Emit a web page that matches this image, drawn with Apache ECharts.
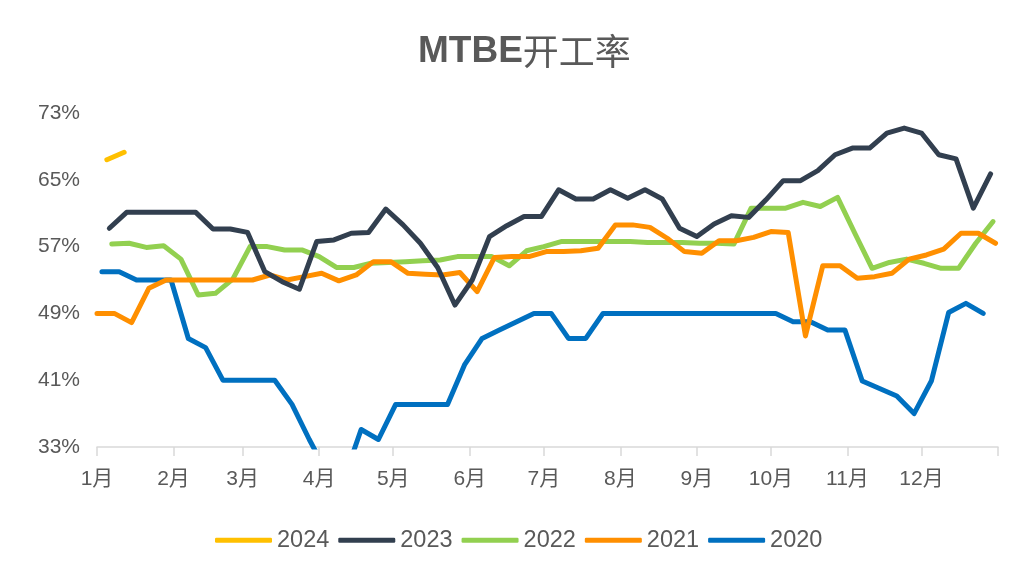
<!DOCTYPE html>
<html>
<head>
<meta charset="utf-8">
<script src="https://cdn.jsdelivr.net/npm/echarts@6/dist/echarts.min.js"></script>
<style>
    html, body { margin: 0; padding: 0; background: #fff; }
    #chart { width: 1014px; height: 571px; }
</style>
</head>
<body>
<div id="chart"></div>
<script>
    // month start (day of year) and labels
    var monthStarts = [0, 31, 59, 90, 120, 151, 181, 212, 243, 273, 304, 334];
    var monthLabels = ['1月', '2月', '3月', '4月', '5月', '6月', '7月', '8月', '9月', '10月', '11月', '12月'];

    var years = ['2024', '2023', '2022', '2021', '2020'];
    var colors = ['#FFC000', '#323F4F', '#92D050', '#FF8F00', '#0070C0'];
    // first weekly (Friday) point of each year, day of year
    var firstDays = [4, 5, 6, 0, 2];

    // weekly rates, %
    var rate2024 = [67.4, 68.3];
    var rate2023 = [59.2, 61.1, 61.1, 61.1, 61.1, 61.1, 59.1, 59.1, 58.7, 54.0,
        52.8, 51.9, 57.6, 57.8, 58.6, 58.7, 61.5, 59.6, 57.4, 54.5,
        50.0, 53.0, 58.2, 59.5, 60.6, 60.6, 63.8, 62.7, 62.7, 63.8,
        62.8, 63.8, 62.7, 59.2, 58.2, 59.7, 60.7, 60.5, 62.6, 64.9,
        64.9, 66.1, 68.0, 68.8, 68.8, 70.6, 71.2, 70.6, 68.0, 67.5,
        61.6, 65.7];
    var rate2022 = [57.3, 57.4, 56.9, 57.1, 55.5, 51.2, 51.4, 53.1, 57.0, 57.0,
        56.6, 56.6, 55.8, 54.5, 54.5, 55.0, 55.1, 55.2, 55.3, 55.4,
        55.8, 55.8, 55.8, 54.7, 56.5, 57.0, 57.6, 57.6, 57.6, 57.6,
        57.6, 57.5, 57.5, 57.5, 57.4, 57.4, 57.3, 61.6, 61.6, 61.6,
        62.3, 61.8, 62.9, 58.6, 54.4, 55.1, 55.5, 55.0, 54.4, 54.4,
        57.4, 60.0];
    var rate2021 = [49.0, 49.0, 47.9, 52.0, 53.0, 53.0, 53.0, 53.0, 53.0, 53.0,
        53.6, 53.0, 53.4, 53.8, 52.9, 53.6, 55.2, 55.2, 53.8, 53.7,
        53.6, 53.9, 51.6, 55.7, 55.8, 55.8, 56.4, 56.4, 56.5, 56.8,
        59.6, 59.6, 59.3, 58.0, 56.4, 56.2, 57.7, 57.7, 58.1, 58.8,
        58.7, 46.3, 54.7, 54.7, 53.2, 53.4, 53.8, 55.5, 56.0, 56.7,
        58.6, 58.6, 57.4];
    var rate2020 = [54.0, 54.0, 53.0, 53.0, 53.0, 46.0, 44.9, 41.0, 41.0, 41.0,
        41.0, 38.1, 33.9, 30.0, 29.1, 35.1, 33.9, 38.1, 38.1, 38.1,
        38.1, 42.9, 46.0, 47.0, 48.0, 49.0, 49.0, 46.0, 46.0, 49.0,
        49.0, 49.0, 49.0, 49.0, 49.0, 49.0, 49.0, 49.0, 49.0, 49.0,
        48.0, 48.0, 47.0, 47.0, 40.9, 40.0, 39.1, 37.0, 40.9, 49.1,
        50.2, 49.0];

    var rates = [rate2024, rate2023, rate2022, rate2021, rate2020];

    var myChart = echarts.init(document.getElementById('chart'));
    var fontFamily = '"Liberation Sans", Arial, "Noto Sans CJK SC", sans-serif';

    function weekly(start, values) {
        return values.map(function (v, i) {
            return [start + 7 * i, v];
        });
    }

    // draw order: 2020 at bottom, 2024 on top
    var series = [];
    var order = [4, 2, 3, 1, 0];
    order.forEach(function (k) {
        series.push({
            name: years[k],
            type: 'line',
            data: weekly(firstDays[k], rates[k]),
            symbol: 'none',
            clip: true,
            color: colors[k],
            lineStyle: {
                width: 5,
                color: colors[k],
                cap: 'round',
                join: 'round'
            }
        });
    });

    var option = {
        animation: false,
        title: {
            text: '{a|MTBE}{b|开工率}',
            left: 413,
            top: 28,
            textStyle: {
                rich: {
                    a: { fontSize: 37, fontWeight: 'bold', color: '#595959', fontFamily: fontFamily },
                    b: { fontSize: 36, fontWeight: 'normal', color: '#595959', fontFamily: '"Noto Sans CJK SC", sans-serif' }
                }
            }
        },
        legend: {
            data: years,
            bottom: 14,
            left: 210,
            icon: 'roundRect',
            itemWidth: 57,
            itemHeight: 5,
            itemGap: 9,
            textStyle: {
                fontSize: 23.5,
                color: '#595959',
                fontFamily: fontFamily
            }
        },
        grid: {
            left: 97,
            right: 16,
            top: 113,
            bottom: 124
        },
        xAxis: {
            type: 'value',
            min: 0,
            max: 365,
            axisLine: { lineStyle: { color: '#D9D9D9', width: 1.5 } },
            axisTick: {
                show: true,
                length: 9,
                customValues: monthStarts.concat([365]),
                lineStyle: { color: '#D9D9D9', width: 1.5 }
            },
            axisLabel: {
                customValues: monthStarts,
                margin: 22,
                fontSize: 21,
                color: '#595959',
                fontFamily: fontFamily,
                formatter: function (v) {
                    var idx = monthStarts.indexOf(v);
                    return idx >= 0 ? monthLabels[idx] : '';
                }
            },
            splitLine: { show: false }
        },
        yAxis: {
            type: 'value',
            min: 33,
            max: 73,
            interval: 8,
            axisLine: { show: false },
            axisTick: { show: false },
            splitLine: { show: false },
            axisLabel: {
                formatter: '{value}%',
                margin: 17,
                fontSize: 21,
                color: '#595959',
                fontFamily: fontFamily
            }
        },
        series: series
    };

    myChart.setOption(option);
</script>
</body>
</html>
